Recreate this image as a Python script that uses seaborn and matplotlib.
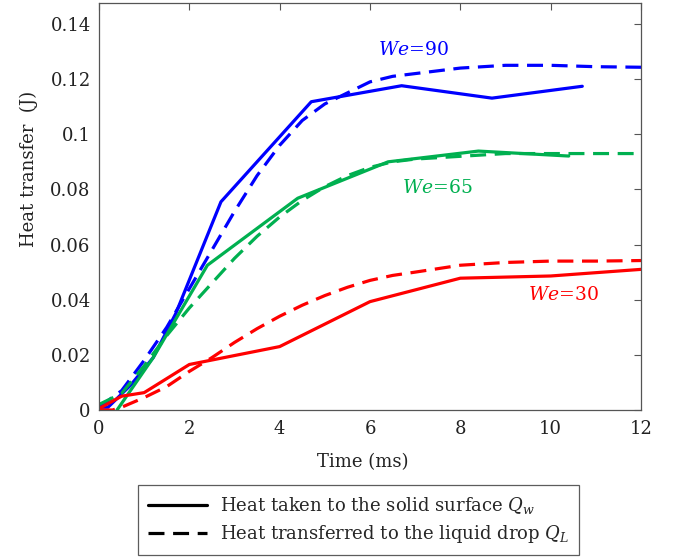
import numpy as np
import pandas as pd
import matplotlib
matplotlib.use("Agg")
import matplotlib.pyplot as plt
from matplotlib.lines import Line2D
import seaborn as sns

# ---- data ----
blue_solid_x = [0, 0.2, 0.7, 1.2, 1.7, 2.7, 4.7, 6.7, 8.7, 10.7]
blue_solid_y = [0.001, 0.001, 0.009, 0.019, 0.035, 0.0755, 0.1118, 0.1176, 0.1131, 0.1174]
blue_dash_x = [0, 0.5, 1, 1.5, 2, 2.5, 3, 3.5, 4, 4.5, 5, 5.5, 6, 6.5, 7, 8, 9, 10, 11, 12]
blue_dash_y = [0.001, 0.007, 0.018, 0.030, 0.044, 0.058, 0.072, 0.085, 0.096, 0.105,
               0.111, 0.115, 0.119, 0.121, 0.122, 0.124, 0.125, 0.125, 0.1245, 0.1243]
green_solid_x = [0.4, 1.2, 2.4, 4.4, 6.4, 8.4, 10.4]
green_solid_y = [0.0, 0.019, 0.0525, 0.0768, 0.090, 0.0939, 0.0921]
green_dash_x = [0, 0.5, 1, 1.5, 2, 2.5, 3, 3.5, 4, 4.5, 5, 5.5, 6, 6.5, 7, 8, 9, 10, 11, 12]
green_dash_y = [0.002, 0.006, 0.016, 0.027, 0.037, 0.046, 0.055, 0.063, 0.070, 0.076,
                0.081, 0.085, 0.088, 0.090, 0.091, 0.092, 0.093, 0.093, 0.093, 0.093]
red_solid_x = [0, 0.5, 1, 2, 4, 6, 8, 10, 12]
red_solid_y = [0.0005, 0.005, 0.0063, 0.0165, 0.023, 0.0393, 0.0478, 0.0486, 0.051]
red_dash_x = [0, 0.3, 0.5, 1, 1.5, 2, 2.5, 3, 3.5, 4, 4.5, 5, 5.5, 6, 6.5, 7, 8, 9, 10, 11, 12]
red_dash_y = [0, 0, 0.001, 0.0045, 0.0085, 0.014, 0.019, 0.0245, 0.0295, 0.034, 0.038,
              0.0415, 0.0445, 0.047, 0.0488, 0.050, 0.0525, 0.0535, 0.054, 0.054, 0.0542]

we_labels = ["$We$=90", "$We$=65", "$We$=30"]
legend_labels = ["Heat taken to the solid surface $Q_w$",
                 "Heat transferred to the liquid drop $Q_L$"]
x_ticks = [0, 2, 4, 6, 8, 10, 12]
y_ticks = [0, 0.02, 0.04, 0.06, 0.08, 0.1, 0.12, 0.14]
y_tick_labels = ["0", "0.02", "0.04", "0.06", "0.08", "0.1", "0.12", "0.14"]

BLUE = "#0000FF"
GREEN = "#00B050"
RED = "#FF0000"

sns.set_style("white")
plt.rcParams["font.family"] = ["DejaVu Serif"]
plt.rcParams["mathtext.fontset"] = "dejavuserif"

FS = 13

fig = plt.figure(figsize=(6.79, 5.60), dpi=100)
ax = fig.add_axes([99 / 679, 150 / 560, 542 / 679, 407 / 560])

lw = 2.3
dash = (5, 2.7)
series = [
    (blue_solid_x, blue_solid_y, BLUE, False),
    (blue_dash_x, blue_dash_y, BLUE, True),
    (green_solid_x, green_solid_y, GREEN, False),
    (green_dash_x, green_dash_y, GREEN, True),
    (red_solid_x, red_solid_y, RED, False),
    (red_dash_x, red_dash_y, RED, True),
]
for xs, ys, col, dashed in series:
    df = pd.DataFrame({"t": xs, "q": ys})
    sns.lineplot(data=df, x="t", y="q", ax=ax, color=col, lw=lw, legend=False,
                 estimator=None, sort=False)
    if dashed:
        ax.lines[-1].set_dashes(dash)

ax.text(6.18, 0.1306, we_labels[0], color=BLUE, fontsize=FS + 0.5, va="center", ha="left")
ax.text(6.7, 0.0805, we_labels[1], color=GREEN, fontsize=FS + 0.5, va="center", ha="left")
ax.text(9.5, 0.0417, we_labels[2], color=RED, fontsize=FS + 0.5, va="center", ha="left")

ax.set_xlim(0, 12)
ax.set_ylim(0, 0.1476)
ax.set_xticks(x_ticks)
ax.set_xticklabels([str(v) for v in x_ticks])
ax.set_yticks(y_ticks)
ax.set_yticklabels(y_tick_labels)
ax.tick_params(axis="both", direction="in", length=5, width=0.8, color="#555555",
               labelsize=FS, labelcolor="#222222", top=True, right=True)
ax.tick_params(axis="x", pad=7)
ax.tick_params(axis="y", pad=6)
for s in ax.spines.values():
    s.set_visible(True)
    s.set_color("#555555")
    s.set_linewidth(0.9)

ax.set_xlabel("Time (ms)", fontsize=FS, color="#222222")
ax.set_ylabel("Heat transfer  (J)", fontsize=FS, color="#222222")
ax.xaxis.set_label_coords(0.487, -0.105)
ax.yaxis.set_label_coords(-0.113, 0.592)

handles = [Line2D([], [], color="black", lw=lw),
           Line2D([], [], color="black", lw=lw, dashes=dash)]
leg = fig.legend(handles, legend_labels, loc="center",
                 bbox_to_anchor=(358.5 / 679, 1 - 520 / 560), fontsize=FS,
                 frameon=True, fancybox=False, handlelength=3.3,
                 borderpad=0.55, labelspacing=0.4, handletextpad=0.7)
leg.get_frame().set_edgecolor("#333333")
leg.get_frame().set_linewidth(0.9)

fig.savefig("out.png", dpi=100)
